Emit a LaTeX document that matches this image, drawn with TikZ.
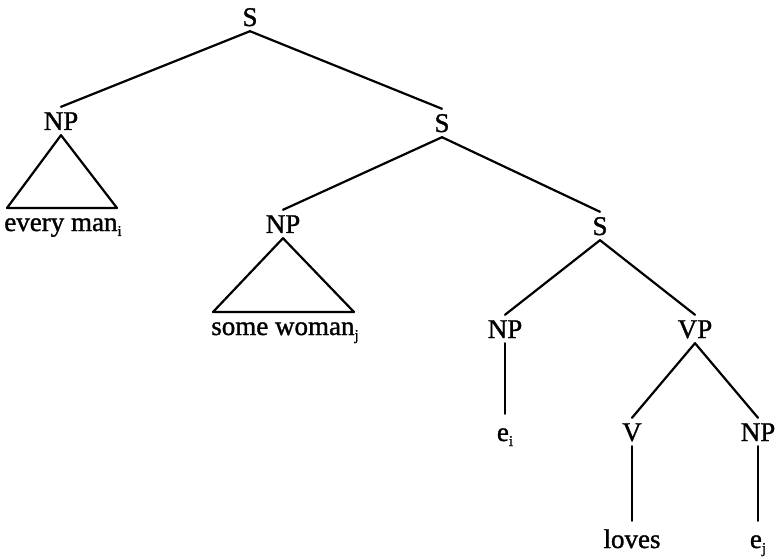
\documentclass[tikz,border=0pt]{standalone}
\usepackage{fontspec}
\setmainfont{Liberation Serif}
\newfontfamily\treefont{Liberation Serif}[FakeBold=1.2]
\newcommand{\lowsub}[1]{\raisebox{-5pt}{\fontsize{15}{15}\selectfont #1}}
\begin{document}
\begin{tikzpicture}[x=1pt,y=-1pt,
  lbl/.style={anchor=base,inner xsep=0pt,inner ysep=5pt,text height=18pt,text depth=0pt,
    font=\treefont\fontsize{27}{30}\selectfont},
  leaf/.style={lbl,text height=22pt},
  edge/.style={line width=2.2pt,line cap=round,line join=round}]
\useasboundingbox (0,0) rectangle (777,559);
% nodes
\node[lbl] (s1) at (250,26) {S};
\node[lbl] (np1) at (61,130) {NP};
\node[lbl] (s2) at (442,132) {S};
\node[lbl] (np2) at (283,233) {NP};
\node[lbl] (s3) at (600,235) {S};
\node[lbl] (np3) at (505,338) {NP};
\node[lbl] (vp) at (695,338) {VP};
\node[lbl] (v) at (632,441) {V};
\node[lbl] (np4) at (758,441) {NP};
\node[leaf] (ei) at (505,441) {e\lowsub{i}};
\node[leaf] (loves) at (632,548) {loves};
\node[leaf] (ej) at (758,548) {e\lowsub{j}};
\node[lbl] (every) at (63,231) {every man\lowsub{i}};
\node[lbl] (some) at (285,335) {some woman\lowsub{j}};
% triangle corners
\coordinate (t1l) at (7,208);
\coordinate (t1r) at (117,208);
\coordinate (t2l) at (213,312);
\coordinate (t2r) at (354,312);
% edges
\draw[edge] (s1.south) -- (np1.north);
\draw[edge] (s1.south) -- (s2.north);
\draw[edge] (s2.south) -- (np2.north);
\draw[edge] (s2.south) -- (s3.north);
\draw[edge] (s3.south) -- (np3.north);
\draw[edge] (s3.south) -- (vp.north);
\draw[edge] (vp.south) -- (v.north);
\draw[edge] (vp.south) -- (np4.north);
\draw[edge] (np3.south) -- (ei.north);
\draw[edge] (v.south) -- (loves.north);
\draw[edge] (np4.south) -- (ej.north);
\draw[edge] (np1.south) -- (t1l) -- (t1r) -- cycle;
\draw[edge] (np2.south) -- (t2l) -- (t2r) -- cycle;
\end{tikzpicture}
\end{document}
